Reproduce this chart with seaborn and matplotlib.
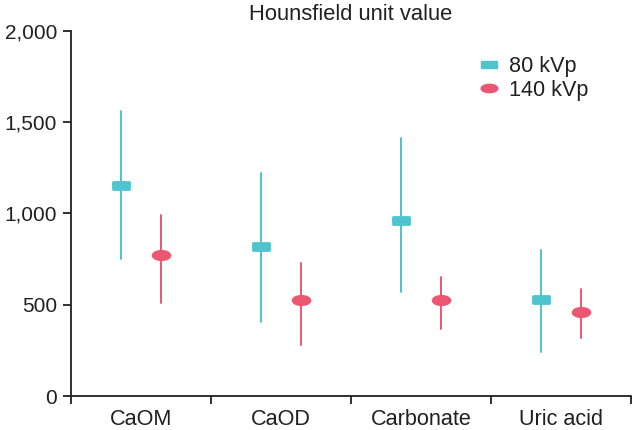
import numpy as np
import pandas as pd
import seaborn as sns
import matplotlib.pyplot as plt
from matplotlib.path import Path
from matplotlib.lines import Line2D

sns.set_style("ticks")
plt.rcParams['font.family'] = ['Liberation Sans', 'DejaVu Sans']

stones = ["CaOM", "CaOD", "Carbonate", "Uric acid"]
energies = ["80 kVp", "140 kVp"]
mid_80 = [1158, 820, 964, 530]
low_80 = [749, 407, 571, 243]
high_80 = [1560, 1220, 1412, 800]
mid_140 = [773, 526, 526, 462]
low_140 = [508, 277, 369, 316]
high_140 = [992, 730, 650, 586]

cyan = "#4DC4CE"
red = "#EC5670"
ink = "#231F20"

# long table: low / mid / high per group -> median + full range
rows = []
for e, lo, mi, hi in [("80 kVp", low_80, mid_80, high_80),
                      ("140 kVp", low_140, mid_140, high_140)]:
    for s, a, b, c in zip(stones, lo, mi, hi):
        for v in (a, b, c):
            rows.append({"stone": s, "kVp": e, "HU": v})
df = pd.DataFrame(rows)

rect = Path([(-1, -0.42), (1, -0.42), (1, 0.42), (-1, 0.42), (-1, -0.42)],
            [Path.MOVETO, Path.LINETO, Path.LINETO, Path.LINETO, Path.CLOSEPOLY])
circ = Path.unit_circle()
ell = Path(circ.vertices * np.array([1.0, 0.5]), circ.codes)

fig = plt.figure(figsize=(6.33, 4.30), dpi=100)
ax = fig.add_axes([0.112, 0.079, 0.885, 0.849])

sns.pointplot(data=df, x="stone", y="HU", hue="kVp", order=stones,
              hue_order=energies, estimator="median", errorbar=("pi", 100),
              dodge=0.286, linestyle="none", markers=[rect, ell],
              markersize=12, palette=[cyan, red], err_kws={"linewidth": 1.4},
              legend=False, ax=ax)

ax.set_xlim(-0.5, 3.5)
ax.set_ylim(0, 2000)
ax.set_yticks([0, 500, 1000, 1500, 2000])
ax.set_yticklabels(["0", "500", "1,000", "1,500", "2,000"])
ax.set_xticks(range(4))
ax.set_xticklabels(stones)
ax.set_xticks(np.arange(-0.5, 4, 1), minor=True)
ax.tick_params(axis="x", which="major", length=0, pad=9, labelsize=15.6, colors=ink)
ax.tick_params(axis="x", which="minor", length=6, width=1.3, color=ink)
ax.tick_params(axis="y", length=6, width=1.3, pad=4, labelsize=15, colors=ink)
for side in ("left", "bottom"):
    ax.spines[side].set_linewidth(1.3)
    ax.spines[side].set_color(ink)
sns.despine(ax=ax)
ax.set_xlabel("")
ax.set_ylabel("")
ax.set_title("Hounsfield unit value", fontsize=15.8, color=ink, pad=8)

handles = [Line2D([], [], linestyle="none", marker=rect, markersize=12, color=cyan),
           Line2D([], [], linestyle="none", marker=ell, markersize=12, color=red)]
ax.legend(handles, energies, frameon=False, fontsize=15.6, loc="upper left",
          bbox_to_anchor=(0.689, 0.985), handletextpad=0.3, labelspacing=0.12,
          handlelength=1.2, labelcolor=ink)

fig.savefig("out.png", dpi=100)
